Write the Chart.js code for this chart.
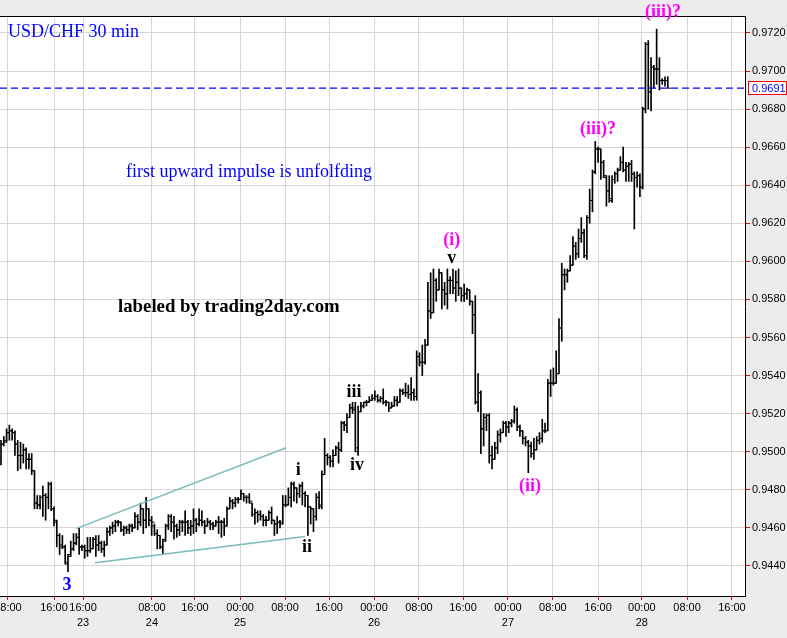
<!DOCTYPE html>
<html><head><meta charset="utf-8">
<script src="https://cdn.jsdelivr.net/npm/chart.js@4/dist/chart.umd.min.js"></script>
<style>html,body{margin:0;padding:0;background:#ececec;}#wrap{width:787px;height:638px;position:relative;}</style>
</head><body><div id="wrap"><canvas id="c" width="787" height="638"></canvas></div>
<script>
// USD/CHF 30-min OHLC bars
const opens=[0.9497,0.9504,0.9506,0.9510,0.9511,0.9510,0.9504,0.9498,0.9498,0.9501,
0.9496,0.9496,0.9490,0.9473,0.9472,0.9476,0.9477,0.9476,0.9483,0.9470,
0.9463,0.9456,0.9451,0.9450,0.9442,0.9446,0.9449,0.9452,0.9455,0.9450,
0.9450,0.9448,0.9448,0.9449,0.9454,0.9451,0.9452,0.9449,0.9451,0.9458,
0.9460,0.9461,0.9463,0.9463,0.9459,0.9460,0.9459,0.9461,0.9460,0.9466,
0.9463,0.9470,0.9464,0.9470,0.9464,0.9461,0.9457,0.9456,0.9450,0.9454,
0.9461,0.9466,0.9463,0.9461,0.9459,0.9463,0.9463,0.9463,0.9460,0.9461,
0.9464,0.9462,0.9464,0.9463,0.9461,0.9463,0.9462,0.9461,0.9463,0.9463,
0.9463,0.9461,0.9470,0.9474,0.9473,0.9475,0.9475,0.9478,0.9476,0.9476,
0.9473,0.9467,0.9468,0.9467,0.9466,0.9464,0.9464,0.9468,0.9464,0.9462,
0.9463,0.9463,0.9472,0.9472,0.9476,0.9483,0.9481,0.9478,0.9482,0.9478,
0.9477,0.9471,0.9470,0.9466,0.9476,0.9472,0.9488,0.9498,0.9497,0.9495,
0.9498,0.9502,0.9501,0.9515,0.9514,0.9518,0.9523,0.9522,0.9500,0.9521,
0.9524,0.9526,0.9526,0.9527,0.9528,0.9529,0.9527,0.9528,0.9526,0.9526,
0.9523,0.9524,0.9527,0.9526,0.9532,0.9531,0.9531,0.9530,0.9531,0.9529,
0.9550,0.9547,0.9547,0.9556,0.9574,0.9573,0.9590,0.9585,0.9594,0.9585,
0.9583,0.9590,0.9590,0.9586,0.9589,0.9586,0.9582,0.9583,0.9585,0.9579,
0.9572,0.9526,0.9531,0.9512,0.9518,0.9519,0.9498,0.9496,0.9502,0.9509,
0.9510,0.9515,0.9513,0.9515,0.9516,0.9522,0.9513,0.9511,0.9507,0.9505,
0.9503,0.9499,0.9501,0.9506,0.9507,0.9511,0.9511,0.9536,0.9536,0.9536,
0.9541,0.9565,0.9593,0.9593,0.9595,0.9598,0.9608,0.9604,0.9612,0.9615,
0.9603,0.9623,0.9632,0.9647,0.9659,0.9659,0.9652,0.9644,0.9637,0.9633,
0.9643,0.9646,0.9648,0.9652,0.9648,0.9650,0.9651,0.9646,0.9644,0.9645,
0.9639,0.9680,0.9714,0.9689,0.9702,0.9701,0.9701,0.9695,0.9695,0.9695];
const highs=[0.9506,0.9508,0.9512,0.9514,0.9512,0.9511,0.9506,0.9505,0.9504,0.9502,
0.9499,0.9499,0.9490,0.9477,0.9477,0.9482,0.9478,0.9484,0.9484,0.9471,
0.9464,0.9457,0.9456,0.9451,0.9446,0.9453,0.9457,0.9457,0.9460,0.9451,
0.9451,0.9455,0.9455,0.9455,0.9456,0.9456,0.9453,0.9453,0.9460,0.9461,
0.9463,0.9464,0.9464,0.9463,0.9461,0.9461,0.9462,0.9462,0.9468,0.9467,
0.9473,0.9470,0.9476,0.9470,0.9466,0.9462,0.9459,0.9456,0.9454,0.9462,
0.9467,0.9467,0.9466,0.9462,0.9464,0.9464,0.9469,0.9464,0.9464,0.9470,
0.9465,0.9470,0.9469,0.9464,0.9465,0.9464,0.9463,0.9464,0.9466,0.9464,
0.9465,0.9471,0.9476,0.9475,0.9476,0.9476,0.9480,0.9478,0.9477,0.9478,
0.9473,0.9470,0.9469,0.9469,0.9467,0.9466,0.9469,0.9471,0.9464,0.9466,
0.9464,0.9477,0.9477,0.9481,0.9484,0.9484,0.9481,0.9483,0.9484,0.9479,
0.9477,0.9471,0.9470,0.9478,0.9479,0.9490,0.9507,0.9499,0.9498,0.9501,
0.9503,0.9505,0.9516,0.9516,0.9520,0.9525,0.9526,0.9526,0.9524,0.9526,
0.9526,0.9527,0.9529,0.9530,0.9532,0.9530,0.9529,0.9533,0.9527,0.9526,
0.9526,0.9529,0.9529,0.9533,0.9533,0.9536,0.9535,0.9539,0.9533,0.9553,
0.9552,0.9556,0.9559,0.9589,0.9594,0.9596,0.9591,0.9596,0.9594,0.9589,
0.9596,0.9592,0.9596,0.9595,0.9596,0.9586,0.9588,0.9586,0.9585,0.9579,
0.9582,0.9541,0.9532,0.9520,0.9520,0.9520,0.9503,0.9505,0.9511,0.9512,
0.9516,0.9516,0.9516,0.9517,0.9524,0.9523,0.9514,0.9511,0.9508,0.9506,
0.9505,0.9507,0.9508,0.9510,0.9517,0.9515,0.9538,0.9543,0.9544,0.9553,
0.9570,0.9599,0.9596,0.9596,0.9603,0.9613,0.9610,0.9617,0.9623,0.9617,
0.9624,0.9638,0.9648,0.9663,0.9660,0.9659,0.9653,0.9645,0.9645,0.9645,
0.9647,0.9649,0.9655,0.9660,0.9652,0.9652,0.9653,0.9647,0.9647,0.9646,
0.9681,0.9715,0.9716,0.9707,0.9703,0.9722,0.9707,0.9696,0.9697,0.9697];
const lows=[0.9493,0.9503,0.9505,0.9506,0.9506,0.9498,0.9490,0.9491,0.9494,0.9491,
0.9491,0.9488,0.9470,0.9470,0.9470,0.9466,0.9464,0.9470,0.9469,0.9461,
0.9450,0.9446,0.9449,0.9441,0.9437,0.9445,0.9448,0.9451,0.9446,0.9448,
0.9444,0.9445,0.9447,0.9449,0.9445,0.9448,0.9447,0.9445,0.9451,0.9456,
0.9457,0.9458,0.9461,0.9458,0.9456,0.9457,0.9457,0.9458,0.9460,0.9459,
0.9461,0.9457,0.9460,0.9461,0.9456,0.9456,0.9449,0.9449,0.9446,0.9453,
0.9459,0.9458,0.9454,0.9455,0.9456,0.9458,0.9456,0.9457,0.9456,0.9457,
0.9458,0.9461,0.9461,0.9457,0.9461,0.9459,0.9459,0.9461,0.9457,0.9455,
0.9456,0.9461,0.9470,0.9470,0.9471,0.9473,0.9475,0.9474,0.9473,0.9473,
0.9466,0.9462,0.9463,0.9464,0.9461,0.9461,0.9464,0.9462,0.9456,0.9457,
0.9460,0.9462,0.9471,0.9472,0.9471,0.9474,0.9473,0.9476,0.9472,0.9471,
0.9456,0.9462,0.9458,0.9464,0.9470,0.9470,0.9488,0.9493,0.9492,0.9492,
0.9498,0.9494,0.9500,0.9511,0.9510,0.9518,0.9520,0.9500,0.9498,0.9521,
0.9523,0.9524,0.9526,0.9527,0.9527,0.9526,0.9526,0.9525,0.9524,0.9521,
0.9523,0.9524,0.9524,0.9526,0.9530,0.9529,0.9528,0.9527,0.9527,0.9527,
0.9545,0.9540,0.9546,0.9556,0.9570,0.9573,0.9579,0.9585,0.9575,0.9577,
0.9575,0.9583,0.9583,0.9579,0.9582,0.9579,0.9579,0.9580,0.9577,0.9562,
0.9525,0.9521,0.9499,0.9503,0.9511,0.9494,0.9491,0.9496,0.9499,0.9505,
0.9510,0.9508,0.9510,0.9513,0.9515,0.9511,0.9508,0.9504,0.9503,0.9489,
0.9497,0.9496,0.9501,0.9504,0.9505,0.9510,0.9511,0.9529,0.9535,0.9536,
0.9541,0.9558,0.9585,0.9589,0.9595,0.9598,0.9601,0.9602,0.9610,0.9602,
0.9601,0.9620,0.9626,0.9646,0.9652,0.9643,0.9644,0.9629,0.9631,0.9631,
0.9641,0.9642,0.9648,0.9647,0.9642,0.9642,0.9642,0.9617,0.9639,0.9634,
0.9638,0.9678,0.9680,0.9679,0.9691,0.9693,0.9690,0.9693,0.9692,0.9691];
const closes=[0.9504,0.9505,0.9510,0.9511,0.9510,0.9504,0.9498,0.9498,0.9501,0.9496,
0.9496,0.9490,0.9473,0.9472,0.9476,0.9477,0.9476,0.9483,0.9470,0.9464,
0.9456,0.9450,0.9450,0.9441,0.9445,0.9449,0.9452,0.9455,0.9450,0.9450,
0.9448,0.9448,0.9449,0.9454,0.9451,0.9452,0.9449,0.9451,0.9458,0.9460,
0.9461,0.9463,0.9463,0.9459,0.9460,0.9459,0.9461,0.9460,0.9466,0.9463,
0.9470,0.9464,0.9470,0.9464,0.9463,0.9457,0.9456,0.9450,0.9453,0.9461,
0.9466,0.9463,0.9461,0.9459,0.9463,0.9463,0.9463,0.9460,0.9461,0.9464,
0.9462,0.9464,0.9463,0.9461,0.9463,0.9462,0.9461,0.9463,0.9463,0.9463,
0.9461,0.9470,0.9474,0.9473,0.9475,0.9475,0.9478,0.9476,0.9476,0.9474,
0.9467,0.9468,0.9467,0.9466,0.9464,0.9464,0.9468,0.9464,0.9462,0.9463,
0.9462,0.9472,0.9472,0.9476,0.9483,0.9481,0.9478,0.9482,0.9478,0.9477,
0.9471,0.9470,0.9466,0.9476,0.9471,0.9488,0.9498,0.9497,0.9495,0.9498,
0.9502,0.9501,0.9515,0.9514,0.9518,0.9523,0.9523,0.9502,0.9521,0.9524,
0.9526,0.9526,0.9527,0.9528,0.9529,0.9527,0.9528,0.9526,0.9526,0.9523,
0.9524,0.9527,0.9526,0.9532,0.9531,0.9531,0.9530,0.9531,0.9529,0.9550,
0.9547,0.9547,0.9556,0.9574,0.9573,0.9590,0.9585,0.9594,0.9585,0.9583,
0.9590,0.9590,0.9586,0.9589,0.9586,0.9582,0.9583,0.9585,0.9579,0.9572,
0.9526,0.9531,0.9512,0.9518,0.9519,0.9498,0.9496,0.9502,0.9509,0.9510,
0.9515,0.9513,0.9515,0.9516,0.9522,0.9513,0.9511,0.9507,0.9505,0.9503,
0.9499,0.9501,0.9506,0.9507,0.9511,0.9511,0.9536,0.9536,0.9536,0.9541,
0.9565,0.9593,0.9593,0.9595,0.9598,0.9608,0.9604,0.9612,0.9615,0.9603,
0.9623,0.9632,0.9647,0.9659,0.9659,0.9652,0.9645,0.9637,0.9632,0.9643,
0.9646,0.9648,0.9652,0.9648,0.9650,0.9651,0.9646,0.9644,0.9645,0.9639,
0.9680,0.9714,0.9689,0.9702,0.9701,0.9701,0.9695,0.9695,0.9695,0.9691];

// time-axis ticks (in bar-index units) and their labels
const timeTickPos=[2.5,19,29.4,54.1,69.5,85.7,101.8,117.6,133.7,149.8,165.6,181.7,197.8,214,229.7,245.9,262];
const timeTickText=['08:00','16:00','16:00','08:00','16:00','00:00','08:00','16:00','00:00','08:00','16:00','00:00','08:00','16:00','00:00','08:00','16:00'];
const timeTickDay=['','','23','24','','25','','','26','','','27','','','28','',''];
const priceTicks=[0.9440,0.9460,0.9480,0.9500,0.9520,0.9540,0.9560,0.9580,0.9600,0.9620,0.9640,0.9660,0.9680,0.9700,0.9720];
const lastPrice=0.9691;
// triangle (wedge) trendlines
const wedgeUpper=[{x:26.9,y:0.94596},{x:102.2,y:0.95021}];
const wedgeLower=[{x:33.7,y:0.94417},{x:109,y:0.94554}];
// wave labels
const waveText=['3','i','ii','iii','iv','v','(i)','(ii)','(iii)?','(iii)?'];
const waveAt=[23.7,106.5,109.7,126.5,127.6,161.6,161.6,189.6,214,237.3];
const wavePrice=[0.94297,0.9490,0.94496,0.9531,0.94927,0.96018,0.96108,0.94816,0.96691,0.9731];

const X_MIN=-0.358, X_MAX=266.67, Y_MIN=0.94242, Y_MAX=0.97289;
const waveColor=['#0000ff','#000','#000','#000','#000','#000','#ff00ff','#ff00ff','#ff00ff','#ff00ff'];

const decor={
  id:'decor',
  beforeDraw(chart){
    const {ctx,chartArea:a}=chart;
    ctx.save();
    ctx.fillStyle='#ececec';ctx.fillRect(0,0,chart.width,chart.height);
    ctx.fillStyle='#ffffff';ctx.fillRect(a.left,a.top,a.right-a.left,a.bottom-a.top);
    ctx.restore();
  },
  afterDraw(chart){
    const {ctx,chartArea:a,scales}=chart;
    const xs=scales.x, ys=scales.y;
    ctx.save();
    ctx.strokeStyle='#000';ctx.lineWidth=1;
    ctx.beginPath();ctx.moveTo(a.left,a.top+0.5);ctx.lineTo(a.right+1,a.top+0.5);ctx.stroke();
    ctx.textBaseline='alphabetic';ctx.textAlign='left';
    ctx.fillStyle='#0000ff';ctx.font='18px "Liberation Serif"';
    ctx.fillText('USD/CHF 30 min',8,37);
    ctx.fillText('first upward impulse is unfolfding',126,177);
    ctx.fillStyle='#000';ctx.font='bold 18.8px "Liberation Serif"';
    ctx.fillText('labeled by trading2day.com',118,312);
    ctx.textAlign='center';ctx.textBaseline='middle';
    waveText.forEach((t,i)=>{
      ctx.fillStyle=waveColor[i];
      ctx.font='bold 18px "Liberation Serif"';
      ctx.fillText(t,xs.getPixelForValue(waveAt[i]),ys.getPixelForValue(wavePrice[i]));
    });
    const py=Math.round(ys.getPixelForValue(lastPrice));
    ctx.fillStyle='#fff';ctx.fillRect(748,py-7,38,14);
    ctx.strokeStyle='#ff0000';ctx.lineWidth=1;ctx.strokeRect(748.5,py-6.5,38,13);
    ctx.fillStyle='#0000ff';ctx.font='11px "Liberation Sans"';ctx.textAlign='left';
    ctx.fillText(lastPrice.toFixed(4),752,py+0.5);
    ctx.restore();
  }
};

const idx=opens.map((_,i)=>i);
new Chart(document.getElementById('c'),{
  type:'bar',
  data:{datasets:[
    {type:'line',data:[{x:X_MIN,y:lastPrice},{x:X_MAX,y:lastPrice}],borderColor:'#0000ff',borderWidth:1.2,borderDash:[7,4],pointRadius:0,order:1},
    {type:'line',data:wedgeUpper,borderColor:'#78bcbc',borderWidth:1.5,pointRadius:0,order:1},
    {type:'line',data:wedgeLower,borderColor:'#78bcbc',borderWidth:1.5,pointRadius:0,order:1},
    {type:'scatter',data:idx.map(i=>({x:i-0.55,y:opens[i]})),pointStyle:'line',pointRadius:1.5,pointHoverRadius:1.5,pointBorderWidth:1,pointBorderColor:'#000',order:2},
    {type:'scatter',data:idx.map(i=>({x:i+0.55,y:closes[i]})),pointStyle:'line',pointRadius:1.5,pointHoverRadius:1.5,pointBorderWidth:1,pointBorderColor:'#000',order:2},
    {type:'bar',data:idx.map(i=>({x:i,y:[lows[i],highs[i]]})),backgroundColor:'#000',borderWidth:0,barThickness:1,grouped:false,order:3}
  ]},
  options:{
    responsive:false,animation:false,devicePixelRatio:1,events:[],
    layout:{padding:{top:16,left:0,right:0,bottom:0},autoPadding:false},
    plugins:{legend:{display:false},tooltip:{enabled:false}},
    scales:{
      x:{type:'linear',min:X_MIN,max:X_MAX,offset:false,
        afterBuildTicks:s=>{s.ticks=timeTickPos.map(v=>({value:v}));},
        afterFit:s=>{s.height=42;s.paddingLeft=0;s.paddingRight=0;},
        grid:{color:'#d6d6d6',lineWidth:1,tickColor:'#ff0000',tickLength:4,offset:false},
        border:{color:'#000',width:1},
        ticks:{autoSkip:false,maxRotation:0,minRotation:0,padding:0,color:'#000',
          font:{family:'"Liberation Sans"',size:11,lineHeight:1.42},
          callback:(v,i)=>timeTickDay[i]?[timeTickText[i],timeTickDay[i]]:timeTickText[i]}
      },
      y:{type:'linear',position:'right',min:Y_MIN,max:Y_MAX,
        afterBuildTicks:s=>{s.ticks=priceTicks.map(v=>({value:v}));},
        afterFit:s=>{s.width=42;s.paddingTop=0;s.paddingBottom=0;},
        grid:{color:'#d6d6d6',lineWidth:1,tickColor:'#ff0000',tickLength:5},
        border:{color:'#000',width:1},
        ticks:{padding:2,color:'#000',font:{family:'"Liberation Sans"',size:11},callback:v=>Number(v).toFixed(4)}
      }
    }
  },
  plugins:[decor]
});
</script></body></html>
